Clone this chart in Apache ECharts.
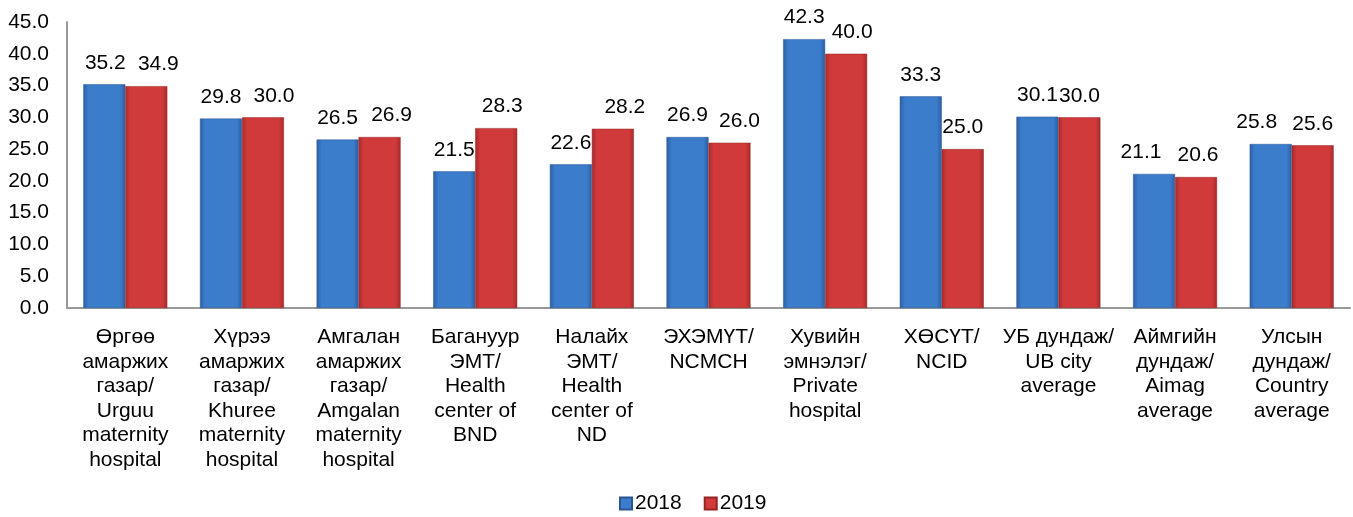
<!DOCTYPE html>
<html>
<head>
<meta charset="utf-8">
<script src="https://cdn.jsdelivr.net/npm/echarts@6/dist/echarts.min.js"></script>
<style>
  html, body { margin: 0; padding: 0; background: #fff; }
  #main { width: 1353px; height: 517px; }
</style>
</head>
<body>
<div id="main"></div>
<script>
var categories = [
    "Өргөө\nамаржих\nгазар/\nUrguu\nmaternity\nhospital",
    "Хүрээ\nамаржих\nгазар/\nKhuree\nmaternity\nhospital",
    "Амгалан\nамаржих\nгазар/\nAmgalan\nmaternity\nhospital",
    "Багануур\nЭМТ/\nHealth\ncenter of\nBND",
    "Налайх\nЭМТ/\nHealth\ncenter of\nND",
    "ЭХЭМҮТ/\nNCMCH",
    "Хувийн\nэмнэлэг/\nPrivate\nhospital",
    "ХӨСҮТ/\nNCID",
    "УБ дундаж/\nUB city\naverage",
    "Аймгийн\nдундаж/\nAimag\naverage",
    "Улсын\nдундаж/\nCountry\naverage"
];
var values2018 = [35.2, 29.8, 26.5, 21.5, 22.6, 26.9, 42.3, 33.3, 30.1, 21.1, 25.8];
var values2019 = [34.9, 30.0, 26.9, 28.3, 28.2, 26.0, 40.0, 25.0, 30.0, 20.6, 25.6];

// label nudges (px) as in the original, where labels were moved by hand
var labelShift2018 = [1, 0, 0, 0, 0, 0, 0, 0, 0, -13, -14];
var labelShift2019 = [12, 11, 12, 6, 12, 10, 6, 0, 0, 2, 0];

var fontName = "'Liberation Sans', Arial, sans-serif";
var fontSize = 21;

function barColor(edge, mid) {
    return new echarts.graphic.LinearGradient(0, 0, 1, 0, [
        { offset: 0, color: edge },
        { offset: 0.12, color: mid },
        { offset: 0.88, color: mid },
        { offset: 1, color: edge }
    ]);
}

function valueLabel() {
    return {
        show: true,
        position: 'top',
        distance: 11,
        color: '#000',
        fontFamily: fontName,
        fontSize: fontSize,
        formatter: function (p) { return p.value.toFixed(1); }
    };
}

function withShift(values, shifts) {
    var out = [];
    for (var i = 0; i < values.length; i++) {
        out.push({ value: values[i], label: { offset: [shifts[i], 0] } });
    }
    return out;
}

var myChart = echarts.init(document.getElementById('main'));
var option = {
    animation: false,
    grid: {
        left: 67,
        right: 3,
        top: 22,
        bottom: 209
    },
    legend: {
        top: 493,
        left: 619,
        icon: 'rect',
        itemWidth: 12,
        itemHeight: 12,
        itemGap: 22,
        padding: 0,
        textStyle: { fontFamily: fontName, fontSize: fontSize, color: '#000', padding: [0, 0, 0, -2] },
        data: ['2018', '2019']
    },
    xAxis: {
        type: 'category',
        data: categories,
        axisLine: { lineStyle: { color: '#999', width: 2 } },
        axisTick: { show: false },
        axisLabel: {
            interval: 0,
            margin: 17,
            color: '#000',
            fontFamily: fontName,
            fontSize: fontSize,
            lineHeight: 24.5
        }
    },
    yAxis: {
        type: 'value',
        min: 0,
        max: 45,
        interval: 5,
        splitLine: { show: false },
        axisLine: { show: true, lineStyle: { color: '#999', width: 2 } },
        axisTick: { show: false },
        axisLabel: {
            margin: 18,
            padding: [5, 0, 0, 0],
            color: '#000',
            fontFamily: fontName,
            fontSize: fontSize,
            formatter: function (v) { return v.toFixed(1); }
        }
    },
    series: [
        {
            name: '2018',
            type: 'bar',
            data: withShift(values2018, labelShift2018),
            barGap: '0%',
            barCategoryGap: '28%',
            itemStyle: {
                color: barColor('#2b5fa3', '#3b7ccb'),
                borderColor: '#2a5590',
                borderWidth: 0.5
            },
            label: valueLabel()
        },
        {
            name: '2019',
            type: 'bar',
            data: withShift(values2019, labelShift2019),
            itemStyle: {
                color: barColor('#a82a2a', '#d03a3a'),
                borderColor: '#962424',
                borderWidth: 0.5
            },
            label: valueLabel()
        }
    ]
};
myChart.setOption(option);
</script>
</body>
</html>
